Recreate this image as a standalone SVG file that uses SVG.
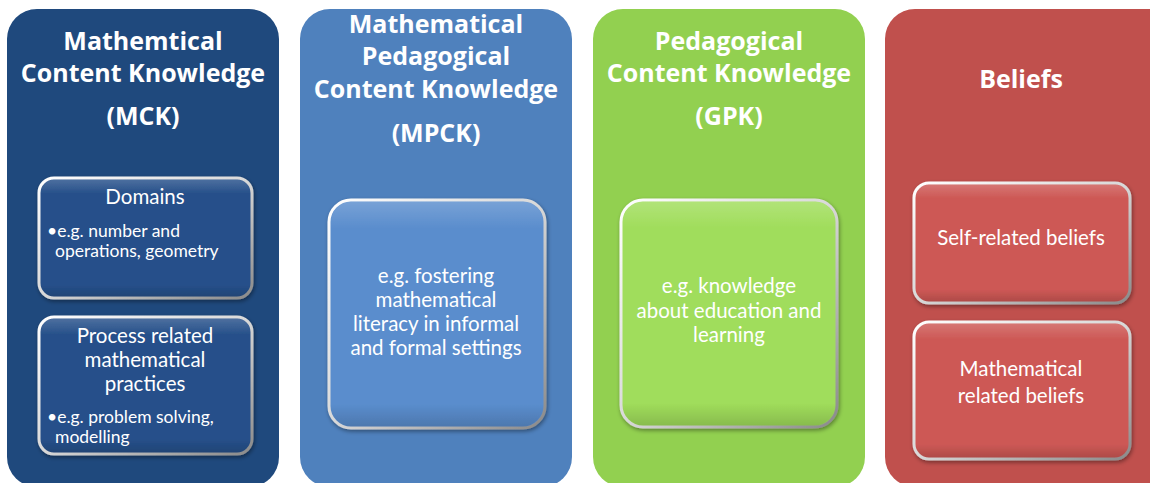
<svg xmlns="http://www.w3.org/2000/svg" width="1150" height="483" viewBox="0 0 1150 483">
<defs>
<linearGradient id="rim" x1="0" y1="0" x2="1" y2="1">
<stop offset="0" stop-color="#ffffff"/>
<stop offset="0.5" stop-color="#d8d8d8"/>
<stop offset="1" stop-color="#8a8a8a"/>
</linearGradient>
<linearGradient id="sheen" x1="0" y1="0" x2="0" y2="1">
<stop offset="0" stop-color="#ffffff" stop-opacity="0.18"/>
<stop offset="0.12" stop-color="#ffffff" stop-opacity="0"/>
<stop offset="0.9" stop-color="#000000" stop-opacity="0"/>
<stop offset="1" stop-color="#000000" stop-opacity="0.15"/>
</linearGradient>
<filter id="sh" x="-10%" y="-10%" width="120%" height="125%">
<feGaussianBlur in="SourceAlpha" stdDeviation="2"/>
<feOffset dx="1" dy="2" result="b"/>
<feComponentTransfer><feFuncA type="linear" slope="0.4"/></feComponentTransfer>
<feMerge><feMergeNode/><feMergeNode in="SourceGraphic"/></feMerge>
</filter>
</defs>
<style>
.title{font-family:"Open Sans","Liberation Sans",sans-serif;font-weight:bold;font-size:25px;fill:#ffffff;text-anchor:middle}
.body{font-family:Lato,"Open Sans","Liberation Sans",sans-serif;font-size:17.5px;fill:#ffffff}
.c{text-anchor:middle;font-size:20.5px}
.rim{stroke:url(#rim);stroke-width:3}
</style>
<rect width="1150" height="483" fill="#ffffff"/>

<g id="mck">
<rect x="7" y="9" width="272" height="478" rx="30" fill="#1F497D"/>
<text class="title" x="143" y="50">Mathemtical</text>
<text class="title" x="143" y="82">Content Knowledge</text>
<text class="title" x="143" y="125">(MCK)</text>
<g id="mck-domains" filter="url(#sh)">
<rect x="39" y="178" width="213" height="120" rx="15" fill="#26508A" class="rim"/>
<rect x="40.5" y="179.5" width="210" height="117" rx="14" fill="url(#sheen)"/>
</g>
<text class="body c" x="145" y="204">Domains</text>
<text class="body" x="47" y="237">•e.g. number and</text>
<text class="body" x="55" y="257">operations, geometry</text>
<g id="mck-process" filter="url(#sh)">
<rect x="39" y="317" width="213" height="137" rx="15" fill="#26508A" class="rim"/>
<rect x="40.5" y="318.5" width="210" height="134" rx="14" fill="url(#sheen)"/>
</g>
<text class="body c" x="145" y="343">Process related</text>
<text class="body c" x="145" y="367">mathematical</text>
<text class="body c" x="145" y="391">practices</text>
<text class="body" x="47" y="423">•e.g. problem solving,</text>
<text class="body" x="55" y="443">modelling</text>
</g>

<g id="mpck">
<rect x="300" y="9" width="272" height="478" rx="30" fill="#4F81BD"/>
<text class="title" x="436" y="33">Mathematical</text>
<text class="title" x="436" y="65">Pedagogical</text>
<text class="title" x="436" y="98">Content Knowledge</text>
<text class="title" x="436" y="142">(MPCK)</text>
<g id="mpck-box" filter="url(#sh)">
<rect x="329" y="200" width="216" height="228" rx="22" fill="#5A8DCD" class="rim"/>
<rect x="330.5" y="201.5" width="213" height="225" rx="21" fill="url(#sheen)"/>
</g>
<text class="body c" x="436" y="283">e.g. fostering</text>
<text class="body c" x="436" y="307">mathematical</text>
<text class="body c" x="436" y="331">literacy in informal</text>
<text class="body c" x="436" y="355">and formal settings</text>
</g>

<g id="gpk">
<rect x="593" y="9" width="272" height="478" rx="30" fill="#92D050"/>
<text class="title" x="729" y="50">Pedagogical</text>
<text class="title" x="729" y="82">Content Knowledge</text>
<text class="title" x="729" y="125">(GPK)</text>
<g id="gpk-box" filter="url(#sh)">
<rect x="621" y="200" width="216" height="227" rx="22" fill="#A0DD5B" class="rim"/>
<rect x="622.5" y="201.5" width="213" height="224" rx="21" fill="url(#sheen)"/>
</g>
<text class="body c" x="729" y="293">e.g. knowledge</text>
<text class="body c" x="729" y="318">about education and</text>
<text class="body c" x="729" y="342">learning</text>
</g>

<g id="beliefs">
<rect x="885" y="9" width="300" height="478" rx="30" fill="#C0504D"/>
<text class="title" x="1021" y="88">Beliefs</text>
<g id="self-beliefs" filter="url(#sh)">
<rect x="914" y="183" width="216" height="120" rx="15" fill="#CD5855" class="rim"/>
<rect x="915.5" y="184.5" width="213" height="117" rx="14" fill="url(#sheen)"/>
</g>
<text class="body c" x="1021" y="245">Self-related beliefs</text>
<g id="math-beliefs" filter="url(#sh)">
<rect x="914" y="322" width="216" height="137" rx="15" fill="#CD5855" class="rim"/>
<rect x="915.5" y="323.5" width="213" height="134" rx="14" fill="url(#sheen)"/>
</g>
<text class="body c" x="1021" y="376">Mathematical</text>
<text class="body c" x="1021" y="403">related beliefs</text>
</g>

<g id="connectors"/>
</svg>
